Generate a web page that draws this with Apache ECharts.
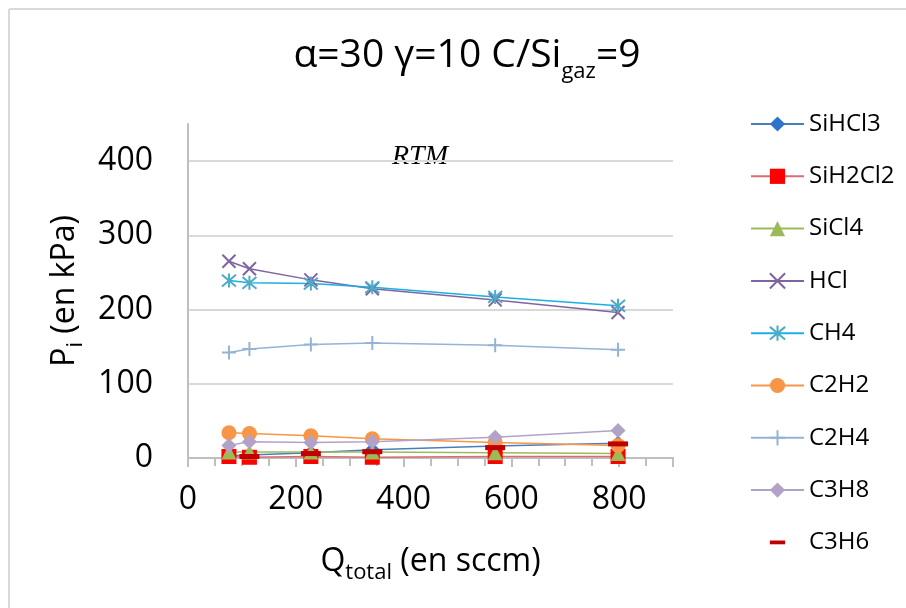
<!DOCTYPE html>
<html>
<head>
<meta charset="utf-8">
<script src="https://cdn.jsdelivr.net/npm/echarts@6/dist/echarts.min.js"></script>
<style>
    html, body {margin: 0; padding: 0; background: #fff;}
    #map {width: 906px; height: 608px;}
</style>
</head>
<body>
<div id="map"></div>
<script>
// debits totaux (sccm)
var qTotal = [76, 114, 228, 342, 570, 798];

// pressions partielles (kPa)
var siHCl3 = [3, 4, 7, 11, 16, 20];
var siH2Cl2 = [2, 1, 2, 1, 2, 2];
var siCl4 = [8, 8, 8, 8, 7, 6];
var hcl = [265, 255, 240, 228, 213, 196];
var ch4 = [239, 236, 235, 230, 217, 205];
var c2h2 = [34, 33, 30, 26, 21, 17];
var c2h4 = [142, 147, 153, 155, 152, 146];
var c3h8 = [17, 22, 21, 22, 28, 37];
var c3h6 = [null, 2, 6, 8.5, 14, 19];

var xTicks = [0, 200, 400, 600, 800];
var yTicks = [0, 100, 200, 300, 400];

var font = '"Open Sans", "Noto Sans", sans-serif';

var SYM_X = 'path://M0,0L10,10M10,0L0,10';
var SYM_STAR = 'path://M0,0L10,10M10,0L0,10M5,-1L5,11';
var SYM_PLUS = 'path://M5,0L5,10M0,5L10,5';
var SYM_DASH = 'path://M0,0L0,0M24,24L24,24M0,9L24,9L24,15L0,15Z';

function pairs(vals) {
    return vals.map(function (v, i) {
        return v == null ? [qTotal[i], null] : [qTotal[i], v];
    });
}

function makeSerie(name, vals, lineColor, markColor, symbol, size, stroke) {
    return {
        name: name,
        type: 'line',
        data: pairs(vals),
        symbol: symbol,
        symbolSize: size,
        showSymbol: true,
        animation: false,
        lineStyle: {color: lineColor, width: 1.5},
        itemStyle: {
            color: markColor,
            borderColor: markColor,
            borderWidth: stroke ? 2 : 0,
            opacity: 1
        },
        emphasis: {disabled: true}
    };
}

var series = [
    makeSerie('SiHCl3', siHCl3, '#4A7EBB', '#2E75C9', 'diamond', 15, false),
    makeSerie('SiH2Cl2', siH2Cl2, '#DA6D73', '#FF0000', 'rect', 15, false),
    makeSerie('SiCl4', siCl4, '#9BBB59', '#9BBB59', 'triangle', 15, false),
    makeSerie('HCl', hcl, '#8064A2', '#8064A2', SYM_X, 13, true),
    makeSerie('CH4', ch4, '#1CAEE4', '#4BACC6', SYM_STAR, 14, true),
    makeSerie('C2H2', c2h2, '#F79646', '#F79646', 'circle', 15, false),
    makeSerie('C2H4', c2h4, '#95B3D7', '#95B3D7', SYM_PLUS, 14, true),
    makeSerie('C3H8', c3h8, '#B3A2C7', '#B3A2C7', 'diamond', 15, false),
    makeSerie('C3H6', c3h6, '#C00000', '#C00000', SYM_DASH, 20, false)
];
// C3H6 : marqueurs seuls, pas de ligne
series[8].lineStyle = {color: '#C00000', width: 0, opacity: 0};

var myChart = echarts.init(document.getElementById('map'), null, {renderer: 'canvas'});

var option = {
    backgroundColor: '#fff',
    animation: false,
    title: {
        text: '{a|α=30 γ=10 C/Si}{s|gaz}{a|=9}',
        left: 462,
        top: 24,
        textAlign: 'center',
        textStyle: {
            fontWeight: 'normal',
            rich: {
                a: {fontSize: 39, lineHeight: 54, fontFamily: font, fontWeight: 'normal', color: '#000'},
                s: {fontSize: 22, lineHeight: 22, fontFamily: font, fontWeight: 'normal', color: '#000', verticalAlign: 'bottom'}
            }
        }
    },
    legend: {
        orient: 'vertical',
        left: 745,
        top: 104,
        itemWidth: 53,
        itemHeight: 19,
        itemGap: 22.3,
        textStyle: {fontSize: 24, lineHeight: 30, fontFamily: font, color: '#000'},
        data: series.map(function (s) { return s.name; })
    },
    grid: {left: 188, right: 233, top: 124, bottom: 150, containLabel: false},
    xAxis: {
        type: 'value',
        min: 0,
        max: 900,
        interval: 200,
        name: '{a|Q}{s|total}{a| (en sccm)}',
        nameLocation: 'middle',
        nameGap: 82,
        nameTextStyle: {
            verticalAlign: 'top',
            rich: {
                a: {fontSize: 32, lineHeight: 44, fontFamily: font, color: '#000'},
                s: {fontSize: 22, lineHeight: 22, fontFamily: font, color: '#000', verticalAlign: 'bottom'}
            }
        },
        axisLine: {show: true, lineStyle: {color: '#BFBFBF', width: 2}},
        axisTick: {show: true, length: 9, lineStyle: {color: '#BFBFBF', width: 2}},
        minorTick: {show: true, splitNumber: 4, length: 8, lineStyle: {color: '#BFBFBF', width: 2}},
        axisLabel: {
            fontSize: 32, fontFamily: font, color: '#000', margin: 26,
            showMaxLabel: false,
            formatter: function (v) { return xTicks.indexOf(v) >= 0 ? String(v) : ''; }
        },
        splitLine: {show: false}
    },
    yAxis: {
        type: 'value',
        min: 0,
        max: 450,
        interval: 100,
        name: '{a|P}{s|i}{a| (en kPa)}',
        nameLocation: 'middle',
        nameRotate: 90,
        nameGap: 97,
        nameTextStyle: {
            rich: {
                a: {fontSize: 32, lineHeight: 44, fontFamily: font, color: '#000'},
                s: {fontSize: 22, lineHeight: 22, fontFamily: font, color: '#000', verticalAlign: 'bottom'}
            }
        },
        axisLine: {show: true, lineStyle: {color: '#BFBFBF', width: 2}},
        axisTick: {show: false},
        axisLabel: {
            fontSize: 32, fontFamily: font, color: '#000', margin: 35,
            showMaxLabel: false,
            formatter: function (v) { return yTicks.indexOf(v) >= 0 ? String(v) : ''; }
        },
        splitLine: {show: true, showMinLine: false, showMaxLine: false, lineStyle: {color: '#D9D9D9', width: 2}}
    },
    graphic: [
        {type: 'line', shape: {x1: 9, y1: 9, x2: 906, y2: 9}, style: {stroke: '#D9D9D9', lineWidth: 2}},
        {type: 'line', shape: {x1: 9, y1: 9, x2: 9, y2: 608}, style: {stroke: '#D9D9D9', lineWidth: 2}},
        {
            type: 'text', left: 392, top: 143,
            style: {text: 'RTM', font: 'italic 28px "Liberation Serif", "DejaVu Serif", serif', fill: '#000'}
        }
    ],
    series: series
};

myChart.setOption(option);
</script>
</body>
</html>
